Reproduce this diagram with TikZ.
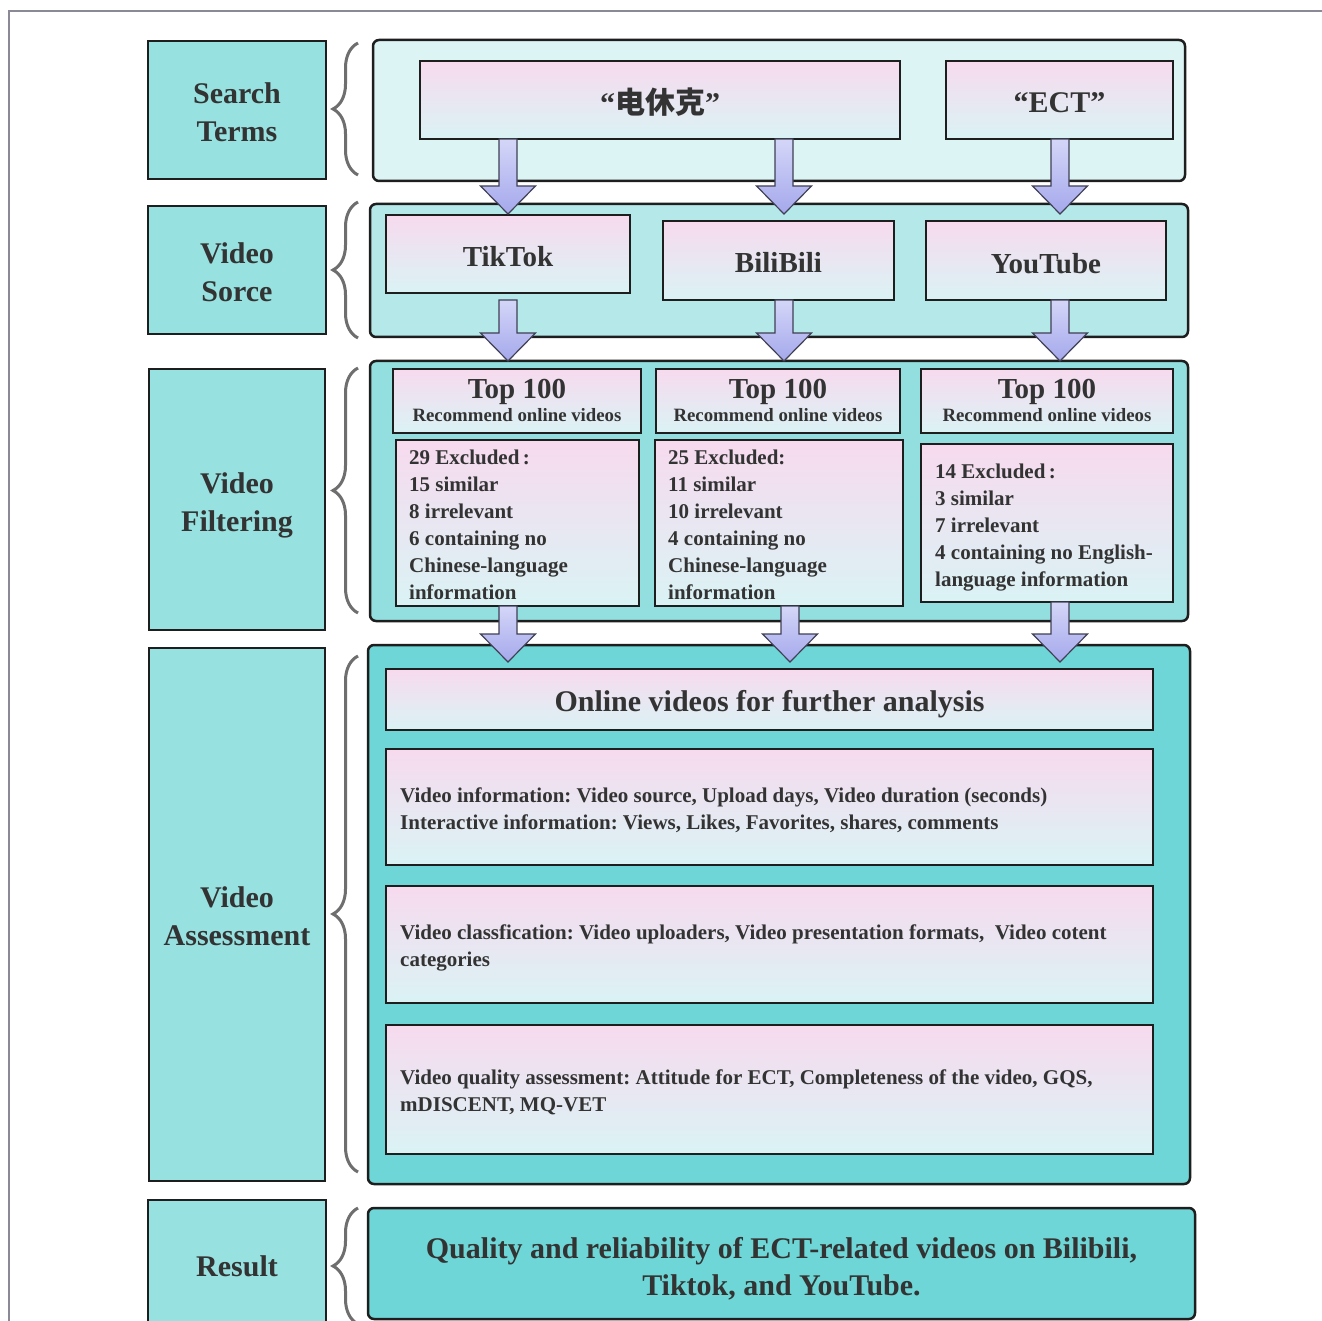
\documentclass[tikz,border=0pt]{standalone}
\usepackage{fontspec}
\setmainfont{Liberation Serif}
\newfontfamily\cjk{Noto Sans CJK SC}
\usetikzlibrary{calc,decorations.pathreplacing}
\frenchspacing
\definecolor{edge}{HTML}{1E1E1E}
\definecolor{txt}{HTML}{333333}
\definecolor{lblfill}{HTML}{98E1E1}
\definecolor{cfillA}{HTML}{DCF4F4}
\definecolor{cfillB}{HTML}{B5E9E9}
\definecolor{cfillC}{HTML}{93DFDF}
\definecolor{cfillD}{HTML}{6ED6D6}
\definecolor{pinkT}{HTML}{F7DAEE}
\definecolor{cyanB}{HTML}{DAF3F5}
\definecolor{arrT}{HTML}{D4D6F8}
\definecolor{arrB}{HTML}{A4A8EB}
\definecolor{arrowedge}{HTML}{404055}
\definecolor{bracecol}{HTML}{6E6E6E}
\definecolor{framecol}{HTML}{8A8A96}
\tikzset{
  lbl/.style={draw=edge, line width=2.5pt, fill=lblfill, inner sep=0pt, outer sep=0pt},
  lbltxt/.style={text=txt, inner sep=0pt, align=center, font=\fontsize{30}{38}\selectfont\bfseries},
  cont/.style={draw=edge, line width=2.5pt, rounded corners=6pt, inner sep=0pt, outer sep=0pt},
  ibox/.style={draw=edge, line width=2.5pt, top color=pinkT, bottom color=cyanB,
    inner sep=0pt, outer sep=0pt},
  bigtxt/.style={text=txt, inner sep=0pt, font=\fontsize{30}{38}\selectfont\bfseries},
  srctxt/.style={text=txt, inner sep=0pt, font=\fontsize{29}{34}\selectfont\bfseries},
  toptxt/.style={text=txt, inner sep=0pt, anchor=base, font=\fontsize{29}{34}\selectfont\bfseries},
  subtxt/.style={text=txt, inner sep=0pt, anchor=base, font=\fontsize{18.8}{22}\selectfont\bfseries},
  listtxt/.style={text=txt, inner sep=0pt, anchor=west, align=left, font=\fontsize{21}{27}\selectfont\bfseries},
  barrow/.style={draw=arrowedge, line width=1.2pt, top color=arrT, bottom color=arrB},
  brc/.style={draw=bracecol, line width=3pt, decorate, decoration={brace, amplitude=25pt}},
}
\newcommand{\blockarrow}[2]{%
  \path[barrow] let \p1=#1, \p2=#2 in
    ({\x1-9pt},{\y1}) -- ({\x1-9pt},{\y2+28pt}) -- ({\x1-27.5pt},{\y2+28pt}) --
    ({\x1},{\y2}) -- ({\x1+27.5pt},{\y2+28pt}) -- ({\x1+9pt},{\y2+28pt}) --
    ({\x1+9pt},{\y1}) -- cycle;}
\begin{document}
\begin{tikzpicture}[x=1pt,y=-1pt]
\useasboundingbox (0,0) rectangle (1322,1321);
\fill[white] (0,0) rectangle (1322,1321);
% frame
\draw[framecol, line width=1.5pt] (1322,11) -- (9,11) -- (9,1321);

% column coordinates
\coordinate (colA) at (508,0);
\coordinate (colB) at (784,0);
\coordinate (colC) at (1060,0);
\coordinate (colD) at (790,0);

% left labels
\node[lbl, minimum width=178, minimum height=138] (lst) at (237,110) {};
\node[lbl, minimum width=178, minimum height=128] (lvs) at (237,270) {};
\node[lbl, minimum width=176, minimum height=261] (lvf) at (237,499.5) {};
\node[lbl, minimum width=176, minimum height=533] (lva) at (237,914.5) {};
\node[lbl, minimum width=178, minimum height=132] (lrs) at (237,1266) {};
\node[lbltxt] (lstt) at ($(lst.center)+(0,2)$) {Search\\Terms};
\node[lbltxt] (lvst) at ($(lvs.center)+(0,2)$) {Video\\Sorce};
\node[lbltxt] (lvft) at ($(lvf.center)+(0,6)$) {Video\\Filtering};
\node[lbltxt] (lvat) at ($(lva.center)+(0,2)$) {Video\\Assessment};
\node[lbltxt] (lrst) at (lrs.center) {Result};

% braces
\draw[brc] (358,175) -- (358,43);
\draw[brc] (358,338) -- (358,202);
\draw[brc] (358,613) -- (358,368);
\draw[brc] (358,1172) -- (358,656);
\draw[brc] (358,1324) -- (358,1208);

% containers
\node[cont, fill=cfillA, minimum width=812, minimum height=141] (c1) at (779,110.5) {};
\node[cont, fill=cfillB, minimum width=818, minimum height=133] (c2) at (779,270.5) {};
\node[cont, fill=cfillC, minimum width=818, minimum height=260] (c3) at (779,491) {};
\node[cont, fill=cfillD, minimum width=822, minimum height=539] (c4) at (779,914.5) {};
\node[cont, fill=cfillD, minimum width=827, minimum height=111] (c5) at (781.5,1263.5) {};
\node[text=txt, inner sep=0pt, align=center, font=\fontsize{30}{37}\selectfont\bfseries]
  (c5t) at ($(c5.center)+(0,5)$)
  {Quality and reliability of ECT-related videos on Bilibili,\\Tiktok, and YouTube.};

% search terms
\node[ibox, minimum width=480, minimum height=78] (zh) at (660,100) {};
\node[ibox, minimum width=227, minimum height=78] (ect) at (1059.5,100) {};
\node[bigtxt] (zht) at ($(zh.center)+(0,2)$) {“{\cjk 电休克}”};
\node[bigtxt] (ectt) at ($(ect.center)+(0,3)$) {“ECT”};

% sources
\node[ibox, minimum width=244, minimum height=78] (tk) at (508,254) {};
\node[ibox, minimum width=231, minimum height=79] (bb) at (778.5,260.5) {};
\node[ibox, minimum width=240, minimum height=79] (yt) at (1046,260.5) {};
\node[srctxt] (tkt) at ($(tk.center)+(0,3)$) {TikTok};
\node[srctxt] (bbt) at ($(bb.center)+(0,2)$) {BiliBili};
\node[srctxt] (ytt) at ($(yt.center)+(0,3)$) {YouTube};

% top 100 boxes
\node[ibox, minimum width=248, minimum height=64] (t1) at (517,401) {};
\node[ibox, minimum width=244, minimum height=64] (t2) at (778,401) {};
\node[ibox, minimum width=252, minimum height=64] (t3) at (1047,401) {};
\node[toptxt] (t1a) at (517,398) {Top 100};
\node[toptxt] (t2a) at (778,398) {Top 100};
\node[toptxt] (t3a) at (1047,398) {Top 100};
\node[subtxt] (t1b) at (517,421) {Recommend online videos};
\node[subtxt] (t2b) at (778,421) {Recommend online videos};
\node[subtxt] (t3b) at (1047,421) {Recommend online videos};

% exclusion boxes
\node[ibox, minimum width=243, minimum height=166] (e1) at (517.5,523) {};
\node[ibox, minimum width=248, minimum height=166] (e2) at (779,523) {};
\node[ibox, minimum width=252, minimum height=158] (e3) at (1047,523) {};
\node[listtxt] (e1t) at (409,524.5)
  {29 Excluded\,:\\15 similar\\8 irrelevant\\6 containing no\\Chinese-language\\information};
\node[listtxt] (e2t) at (668,524.5)
  {25 Excluded:\\11 similar\\10 irrelevant\\4 containing no\\Chinese-language\\information};
\node[listtxt] (e3t) at (935,528)
  {14 Excluded\,:\\3 similar\\7 irrelevant\\4 containing no English-\\language information};

% assessment boxes
\node[ibox, minimum width=767, minimum height=61] (on) at (769.5,699.5) {};
\node[bigtxt] (ont) at ($(on.center)+(0,5)$) {Online videos for further analysis};
\node[ibox, minimum width=767, minimum height=116] (vi) at (769.5,807) {};
\node[ibox, minimum width=767, minimum height=117] (vc) at (769.5,944.5) {};
\node[ibox, minimum width=767, minimum height=129] (vq) at (769.5,1089.5) {};
\node[listtxt] (vit) at (400,810)
  {Video information: Video source, Upload days, Video duration (seconds)\\Interactive information: Views, Likes, Favorites, shares, comments};
\node[listtxt] (vct) at (400,948)
  {Video classfication: Video uploaders, Video presentation formats,\ \ Video cotent\\categories};
\node[listtxt] (vqt) at (400,1092)
  {Video quality assessment: Attitude for ECT, Completeness of the video, GQS,\\mDISCENT, MQ-VET};

% block arrows
\blockarrow{(zh.south -| colA)}{($(c2.north -| colA)+(0,10)$)}
\blockarrow{(zh.south -| colB)}{($(c2.north -| colB)+(0,10)$)}
\blockarrow{(ect.south -| colC)}{($(c2.north -| colC)+(0,10)$)}
\blockarrow{($(tk.south -| colA)+(0,7)$)}{(c3.north -| colA)}
\blockarrow{(bb.south -| colB)}{(c3.north -| colB)}
\blockarrow{(yt.south -| colC)}{(c3.north -| colC)}
\blockarrow{(e1.south -| colA)}{($(on.north -| colA)+(0,-7)$)}
\blockarrow{(e2.south -| colD)}{($(on.north -| colD)+(0,-7)$)}
\blockarrow{(e3.south -| colC)}{($(on.north -| colC)+(0,-7)$)}
\end{tikzpicture}
\end{document}
